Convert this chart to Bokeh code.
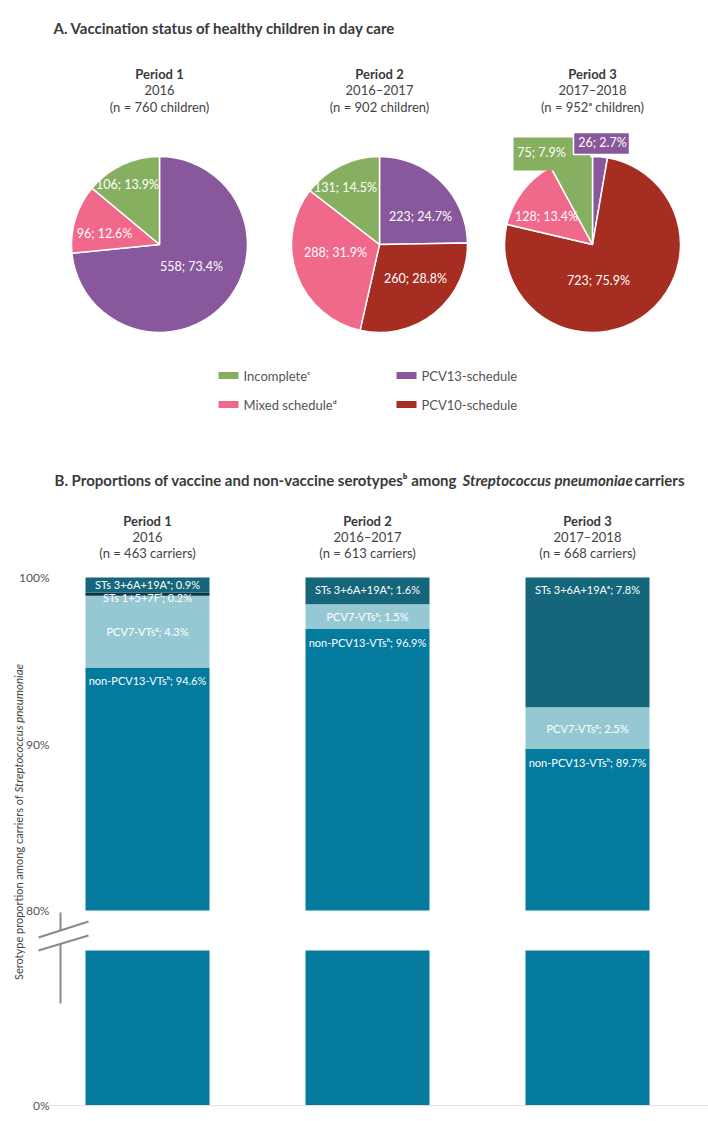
import math
import numpy as np
from bokeh.plotting import figure
from bokeh.models import Range1d, LinearAxis, FixedTicker, PrintfTickFormatter
from bokeh.layouts import column
from bokeh.core.properties import value
from bokeh.embed import file_html
from bokeh.resources import INLINE

# ---------------- data ----------------
pie_periods = ["Period 1", "Period 2", "Period 3"]
pie_years = ["2016", "2016–2017", "2017–2018"]
pie_n_text = ["(n = 760 children)", "(n = 902 children)", "(n = 952ᵃ children)"]
# clockwise order from 12 o'clock
schedules = ["PCV13-schedule", "PCV10-schedule", "Mixed schedule", "Incomplete"]
p1_counts = [558, 0, 96, 106]
p1_pcts = [73.4, 0.0, 12.6, 13.9]
p2_counts = [223, 260, 288, 131]
p2_pcts = [24.7, 28.8, 31.9, 14.5]
p3_counts = [26, 723, 128, 75]
p3_pcts = [2.7, 75.9, 13.4, 7.9]

legend_labels = ["Incompleteᶜ", "Mixed scheduleᵈ", "PCV13-schedule", "PCV10-schedule"]
legend_keys = ["Incomplete", "Mixed schedule", "PCV13-schedule", "PCV10-schedule"]

bar_periods = ["Period 1", "Period 2", "Period 3"]
bar_years = ["2016", "2016–2017", "2017–2018"]
bar_n_text = ["(n = 463 carriers)", "(n = 613 carriers)", "(n = 668 carriers)"]
# stacked bottom -> top
serotype_groups = ["non-PCV13-VTsʰ", "PCV7-VTsᵍ", "STs 1+5+7Fᶠ", "STs 3+6A+19Aᵉ"]
non_pcv13 = [94.6, 96.9, 89.7]
pcv7 = [4.3, 1.5, 2.5]
sts_1_5_7f = [0.2, 0.0, 0.0]
sts_3_6a_19a = [0.9, 1.6, 7.8]
y_ticks_upper = [80, 90, 100]
y_ticks_lower = [0]

# ---------------- styles / layout ----------------
SCHED_COLORS = {"PCV13-schedule": "#89579c", "PCV10-schedule": "#a62d22",
                "Mixed schedule": "#f0688a", "Incomplete": "#86b060"}
SERO_COLORS = ["#047a9e", "#96c8d3", "#0c3747", "#15667b"]
FONT = value("Lato")
DARK = "#3a3a3a"

W = 708
TOP_Y0, TOP_Y1 = 0, 565          # page px covered by the top figure
BAR_Y0, BAR_Y1 = 565, 1121       # page px covered by the bar figure

# ---------------- top figure (pies) ----------------
top = figure(width=W, height=TOP_Y1 - TOP_Y0, x_range=Range1d(0, W),
             y_range=Range1d(-TOP_Y1, -TOP_Y0), output_backend="svg",
             toolbar_location=None, x_axis_location=None, y_axis_location=None,
             min_border=0)
top.grid.visible = False
top.outline_line_color = None


def Y(py):
    return -py


top.text(x=[53], y=[Y(27)], text=["A. Vaccination status of healthy children in day care"],
         text_font=FONT, text_font_style="bold", text_font_size="15px",
         text_color=DARK, text_align="left", text_baseline="middle")

pie_cx = [159, 379, 592]
pie_cy = 244
PIE_R = 88
for i in range(3):
    top.text(x=[pie_cx[i]], y=[Y(73)], text=[pie_periods[i]], text_font=FONT,
             text_font_style="bold", text_font_size="13px", text_color=DARK,
             text_align="center", text_baseline="middle")
    top.text(x=[pie_cx[i], pie_cx[i]], y=[Y(89), Y(106)], text=[pie_years[i], pie_n_text[i]],
             text_font=FONT, text_font_size="13px", text_color="#444444",
             text_align="center", text_baseline="middle")

pie_counts = [p1_counts, p2_counts, p3_counts]
pie_pcts = [p1_pcts, p2_pcts, p3_pcts]
# label offsets from pie centre (px, screen-down positive); None = no label / callout
label_offsets = [
    [(32, 22), None, (-55, -11), (-32, -60)],
    [(41, -28), (36, 34), (-44, 8), (-34, -57)],
    [None, (6, 36), (-46, -28), None],
]
for i in range(3):
    counts = np.array(pie_counts[i], dtype=float)
    frac = counts / counts.sum()
    cum = np.concatenate([[0], np.cumsum(frac)])
    starts = math.pi / 2 - 2 * math.pi * cum[:-1]
    ends = math.pi / 2 - 2 * math.pi * cum[1:]
    keep = counts > 0
    top.wedge(x=[pie_cx[i]] * int(keep.sum()), y=[Y(pie_cy)] * int(keep.sum()),
              radius=PIE_R, radius_units="screen",
              start_angle=list(starts[keep]), end_angle=list(ends[keep]), direction="clock",
              fill_color=[SCHED_COLORS[s] for s, k in zip(schedules, keep) if k],
              line_color="white", line_width=1.5)

# callout boxes for pie 3
box_specs = {"Incomplete": (513, 590, 137, 170, 541, 152, None),
             "PCV13-schedule": (573, 629, 132, 154, 602, 142, "white")}
for key in ["Incomplete", "PCV13-schedule"]:
    l, r, t, b, tx, ty, lc = box_specs[key]
    top.quad(left=[l], right=[r], top=[Y(t)], bottom=[Y(b)],
             fill_color=SCHED_COLORS[key], line_color=lc, line_width=1.5)
    j = schedules.index(key)
    top.text(x=[tx], y=[Y(ty)], text=[f"{p3_counts[j]}; {p3_pcts[j]:.1f}%"],
             text_font=FONT, text_font_size="12.5px", text_color="white",
             text_align="center", text_baseline="middle")

for i in range(3):
    xs, ys, ts = [], [], []
    for j, off in enumerate(label_offsets[i]):
        if off is None or pie_counts[i][j] == 0:
            continue
        xs.append(pie_cx[i] + off[0])
        ys.append(Y(pie_cy + off[1]))
        ts.append(f"{pie_counts[i][j]}; {pie_pcts[i][j]:.1f}%")
    top.text(x=xs, y=ys, text=ts, text_font=FONT, text_font_size="12.5px",
             text_color="white", text_align="center", text_baseline="middle")

# legend
leg_pos = [(228, 375), (228, 404), (406, 375), (406, 404)]
top.rect(x=[p[0] for p in leg_pos], y=[Y(p[1]) for p in leg_pos], width=20, height=7,
         width_units="screen", height_units="screen",
         fill_color=[SCHED_COLORS[k] for k in legend_keys], line_color=None)
top.text(x=[p[0] + 15 for p in leg_pos], y=[Y(p[1]) for p in leg_pos], text=legend_labels,
         text_font=FONT, text_font_size="13px", text_color="#555555",
         text_align="left", text_baseline="middle")

# title B (mixed styles)
top.text(x=[54], y=[Y(479)], text=["B. Proportions of vaccine and non-vaccine serotypesᵇ among"],
         text_font=FONT, text_font_style="bold", text_font_size="15px",
         text_color=DARK, text_align="left", text_baseline="middle")
top.text(x=[462], y=[Y(479)], text=["Streptococcus pneumoniae"],
         text_font=FONT, text_font_style="bold italic", text_font_size="15px",
         text_color=DARK, text_align="left", text_baseline="middle")
top.text(x=[634], y=[Y(479)], text=["carriers"],
         text_font=FONT, text_font_style="bold", text_font_size="15px",
         text_color=DARK, text_align="left", text_baseline="middle")

BAR_X0_PX, BAR_DX_PX, BAR_W_PX = 147, 220, 124
for i in range(3):
    cx = BAR_X0_PX + i * BAR_DX_PX
    top.text(x=[cx], y=[Y(520)], text=[bar_periods[i]], text_font=FONT,
             text_font_style="bold", text_font_size="13px", text_color=DARK,
             text_align="center", text_baseline="middle")
    top.text(x=[cx, cx], y=[Y(536), Y(552)], text=[bar_years[i], bar_n_text[i]],
             text_font=FONT, text_font_size="13px", text_color="#444444",
             text_align="center", text_baseline="middle")

# ---------------- bar figure (broken axis) ----------------
BREAK = 80.0
UP_TOP_PX, UP_BOT_PX = 577, 910        # 100 % and 80 % (upper part)
LOW_TOP_PX, LOW_BOT_PX = 950, 1105     # 80 % and 0 % (lower part)
s_up = (UP_BOT_PX - UP_TOP_PX) / (100 - BREAK)
s_low = (LOW_BOT_PX - LOW_TOP_PX) / BREAK


def px2x(px):
    return 1 + (px - BAR_X0_PX) / BAR_DX_PX


def px2y(py):
    return 100 - (py - UP_TOP_PX) / s_up


x_range = Range1d(px2x(0), px2x(W))
y_range = Range1d(px2y(BAR_Y1), px2y(BAR_Y0))
low_range = Range1d((LOW_BOT_PX - BAR_Y1) / s_low, (LOW_BOT_PX - BAR_Y0) / s_low)

bars = figure(width=W, height=BAR_Y1 - BAR_Y0, x_range=x_range, y_range=y_range,
              output_backend="svg", toolbar_location=None, x_axis_location=None,
              y_axis_location=None, min_border=0)
bars.extra_y_ranges = {"lower": low_range}
bars.grid.visible = False
bars.outline_line_color = None

xs = np.arange(1, 4)
bar_w = BAR_W_PX / BAR_DX_PX
series = [np.array(non_pcv13), np.array(pcv7), np.array(sts_1_5_7f), np.array(sts_3_6a_19a)]
bottom = np.zeros(3)
seg_bounds = []
for vals, color in zip(series, SERO_COLORS):
    tops = bottom + vals
    seg_bounds.append((bottom.copy(), tops.copy()))
    bars.vbar(x=xs, bottom=np.maximum(bottom, BREAK), top=tops, width=bar_w,
              fill_color=color, line_color=None)
    bottom = tops
# lower part of the broken bars
bars.vbar(x=xs, bottom=0, top=np.minimum(series[0], BREAK), width=bar_w,
          fill_color=SERO_COLORS[0], line_color=None, y_range_name="lower")

# baseline
bars.segment(x0=[px2x(40)], x1=[px2x(W)], y0=[0], y1=[0], line_color="#e3e3e3",
             line_width=1, y_range_name="lower")

# segment labels
lab_x, lab_y, lab_t = [], [], []
for i in range(3):
    b0, t0 = seg_bounds[0]
    lab_x.append(xs[i]); lab_y.append(t0[i] - 0.8)
    lab_t.append(f"{serotype_groups[0]}; {series[0][i]:.1f}%")
    b1, t1 = seg_bounds[1]
    lab_x.append(xs[i]); lab_y.append((b1[i] + t1[i]) / 2)
    lab_t.append(f"{serotype_groups[1]}; {series[1][i]:.1f}%")
    if series[2][i] > 0:
        b2, t2 = seg_bounds[2]
        lab_x.append(xs[i]); lab_y.append(b2[i] - 0.1)
        lab_t.append(f"{serotype_groups[2]}; {series[2][i]:.1f}%")
    b3, t3 = seg_bounds[3]
    lab_x.append(xs[i]); lab_y.append(t3[i] - min(series[3][i] / 2, 0.72))
    lab_t.append(f"{serotype_groups[3]}; {series[3][i]:.1f}%")
bars.text(x=lab_x, y=lab_y, text=lab_t, text_font=FONT, text_font_size="11px",
          text_color="white", text_align="center", text_baseline="middle")

# axes (drawn at a fixed location inside the frame)
ax_loc = px2x(58)
for name, ticks in [("default", y_ticks_upper), ("lower", y_ticks_lower)]:
    ax = LinearAxis(y_range_name=name, fixed_location=ax_loc,
                    ticker=FixedTicker(ticks=ticks),
                    formatter=PrintfTickFormatter(format="%d%%"))
    ax.axis_line_color = None
    ax.major_tick_line_color = None
    ax.minor_tick_line_color = None
    ax.major_label_standoff = 3
    ax.major_label_text_font = "Lato"
    ax.major_label_text_font_size = "12px"
    ax.major_label_text_color = "#555555"
    bars.add_layout(ax, "left")

# axis break marks
brk_col = "#8a8a8a"
bars.segment(x0=[px2x(60), px2x(60)], x1=[px2x(60), px2x(60)],
             y0=[px2y(912), px2y(943)], y1=[px2y(930), px2y(1003)],
             line_color=brk_col, line_width=2)
bars.segment(x0=[px2x(38), px2x(38)], x1=[px2x(88), px2x(88)],
             y0=[px2y(937), px2y(950)], y1=[px2y(921), px2y(935)],
             line_color=brk_col, line_width=2)

# rotated y-axis title (mixed styles)
JY = px2y(792)
bars.text(x=[px2x(18)], y=[JY], text=["Serotype proportion among carriers of "],
          angle=math.pi / 2, text_font=FONT, text_font_size="11px", text_color="#444444",
          text_align="right", text_baseline="middle")
bars.text(x=[px2x(18)], y=[JY], text=["Streptococcus pneumoniae"],
          angle=math.pi / 2, text_font=FONT, text_font_style="italic", text_font_size="11.5px",
          text_color="#444444", text_align="left", text_baseline="middle")

layout = column(top, bars, spacing=0)
open("out.html", "w").write(file_html(layout, INLINE))
